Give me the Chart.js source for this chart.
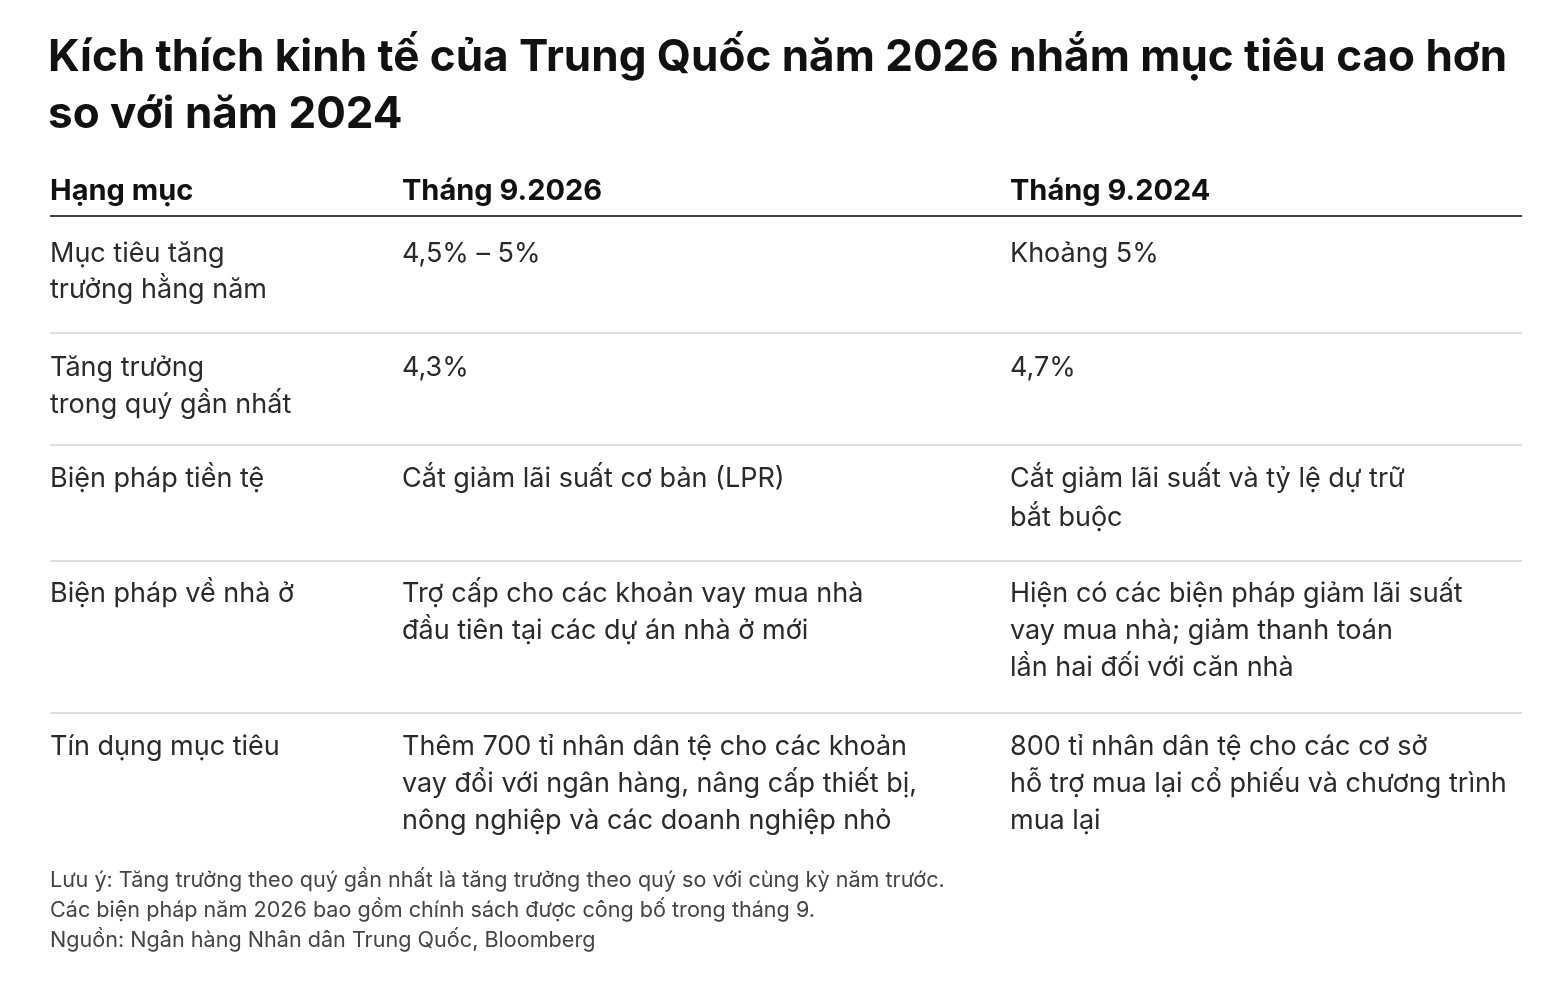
<!DOCTYPE html>
<html><head><meta charset="utf-8">
<script src="https://cdn.jsdelivr.net/npm/chart.js@4/dist/chart.umd.min.js"></script>
<style>html,body{margin:0;padding:0;background:#fff}#w{width:1568px;height:1003px}</style>
</head><body><div id="w"><canvas id="c"></canvas></div>
<script>
const titleLines = ["Kích thích kinh tế của Trung Quốc năm 2026 nhắm mục tiêu cao hơn", "so với năm 2024"];
const headers = ["Hạng mục", "Tháng 9.2026", "Tháng 9.2024"];
const categories = [["Mục tiêu tăng","trưởng hằng năm"],["Tăng trưởng","trong quý gần nhất"],["Biện pháp tiền tệ"],["Biện pháp về nhà ở"],["Tín dụng mục tiêu"]];
const values2026 = [["4,5% – 5%"],["4,3%"],["Cắt giảm lãi suất cơ bản (LPR)"],["Trợ cấp cho các khoản vay mua nhà","đầu tiên tại các dự án nhà ở mới"],["Thêm 700 tỉ nhân dân tệ cho các khoản","vay đổi với ngân hàng, nâng cấp thiết bị,","nông nghiệp và các doanh nghiệp nhỏ"]];
const values2024 = [["Khoảng 5%"],["4,7%"],["Cắt giảm lãi suất và tỷ lệ dự trữ","bắt buộc"],["Hiện có các biện pháp giảm lãi suất","vay mua nhà; giảm thanh toán","lần hai đối với căn nhà"],["800 tỉ nhân dân tệ cho các cơ sở","hỗ trợ mua lại cổ phiếu và chương trình","mua lại"]];
const notes = ["Lưu ý: Tăng trưởng theo quý gần nhất là tăng trưởng theo quý so với cùng kỳ năm trước.","Các biện pháp năm 2026 bao gồm chính sách được công bố trong tháng 9.","Nguồn: Ngân hàng Nhân dân Trung Quốc, Bloomberg"];

const L = {colX:[50,402,1010], rowTop:[254,368,479,594,747], lineH:[36,37,39,37,37], seps:[333,445,561,713], headY:191, headLine:216, right:1522, noteY:[880,910,940]};

const tablePlugin = {id:'table', afterDraw(chart){
  const ctx = chart.ctx, xs = chart.scales.x, ys = chart.scales.y;
  const X = v=>xs.getPixelForValue(v), Y = v=>ys.getPixelForValue(v);
  ctx.save(); ctx.textBaseline='middle'; ctx.textAlign='left';
  ctx.fillStyle='#111'; ctx.font='bold 44px Inter';
  titleLines.forEach((t,i)=>ctx.fillText(t, X(48), Y(58+i*57)));
  ctx.font='bold 29px Inter';
  headers.forEach((h,i)=>ctx.fillText(h, X(L.colX[i]), Y(L.headY)));
  ctx.strokeStyle='#3a3f4a'; ctx.lineWidth=2;
  ctx.beginPath(); ctx.moveTo(X(50),Y(L.headLine)); ctx.lineTo(X(L.right),Y(L.headLine)); ctx.stroke();
  ctx.strokeStyle='#d4d4d4'; ctx.lineWidth=1.5;
  L.seps.forEach(s=>{ctx.beginPath(); ctx.moveTo(X(50),Y(s)); ctx.lineTo(X(L.right),Y(s)); ctx.stroke();});
  ctx.fillStyle='#2a2a2a'; ctx.font='27px Inter';
  [categories, values2026, values2024].forEach((col,ci)=>{
    col.forEach((cell,ri)=>cell.forEach((ln,li)=>ctx.fillText(ln, X(L.colX[ci]), Y(L.rowTop[ri]+li*L.lineH[ri]))));
  });
  ctx.fillStyle='#444'; ctx.font='21.6px Inter';
  notes.forEach((n,i)=>ctx.fillText(n, X(50), Y(L.noteY[i])));
  ctx.restore();
}};

new Chart(document.getElementById('c'), {
  type:'scatter',
  data:{datasets:[]},
  options:{responsive:true, maintainAspectRatio:false, animation:false,
    layout:{padding:0},
    plugins:{legend:{display:false}, tooltip:{enabled:false}},
    scales:{x:{type:'linear',min:0,max:1568,offset:false,display:false}, y:{type:'linear',min:0,max:1003,offset:false,reverse:true,display:false}}},
  plugins:[tablePlugin]
});
</script></body></html>
